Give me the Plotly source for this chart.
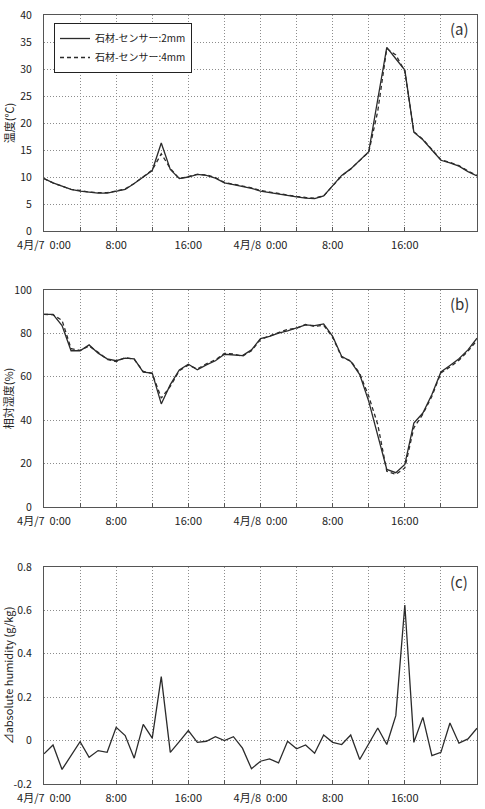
import plotly.graph_objects as go

hours = [0, 1, 2, 3, 4, 5, 6, 7, 8, 9, 10, 11, 12, 13, 14, 15, 16, 17, 18, 19, 20, 21, 22, 23, 24,
         25, 26, 27, 28, 29, 30, 31, 32, 33, 34, 35, 36, 37, 38, 39, 40, 41, 42, 43, 44, 45, 46, 47, 48]

temp_2mm = [9.7, 8.9, 8.3, 7.7, 7.4, 7.2, 7.0, 7.0, 7.4, 7.7, 8.8, 10.0, 11.2, 16.3, 11.4, 9.7, 10.0,
            10.5, 10.3, 9.8, 8.9, 8.6, 8.3, 7.9, 7.4, 7.1, 6.8, 6.6, 6.3, 6.1, 6.0, 6.5, 8.3, 10.3,
            11.5, 13.1, 14.7, 24.4, 34.0, 31.9, 29.8, 18.3, 16.9, 15.0, 13.1, 12.6, 12.0, 11.0, 10.2]
temp_4mm = [9.7, 8.9, 8.3, 7.7, 7.5, 7.2, 7.1, 7.1, 7.4, 7.8, 8.8, 10.0, 11.3, 14.3, 11.6, 9.7, 10.1,
            10.5, 10.4, 9.9, 9.0, 8.7, 8.4, 8.0, 7.5, 7.2, 6.9, 6.7, 6.4, 6.2, 6.1, 6.5, 8.3, 10.2,
            11.5, 13.1, 14.6, 22.2, 33.8, 32.6, 29.6, 18.4, 17.0, 15.1, 13.2, 12.7, 12.1, 11.1, 10.3]

rh_2mm = [88.8, 88.8, 83.6, 72.0, 72.0, 74.7, 70.9, 68.3, 67.4, 68.6, 68.3, 62.2, 61.7, 47.5, 56.4,
          63.2, 65.8, 63.2, 65.5, 67.4, 70.4, 70.1, 69.8, 72.4, 77.6, 78.6, 80.1, 81.2, 82.7, 83.9,
          83.6, 84.4, 78.6, 69.4, 67.1, 61.0, 48.7, 33.4, 17.3, 15.8, 19.6, 38.7, 43.3, 51.8, 62.2,
          65.2, 68.3, 72.4, 77.8]
rh_4mm = [88.8, 88.6, 86.0, 73.0, 72.2, 74.2, 71.3, 68.0, 67.0, 68.9, 68.0, 62.5, 61.5, 50.2, 55.6,
          62.8, 65.4, 63.6, 66.0, 67.8, 70.8, 70.5, 69.5, 72.0, 77.2, 78.9, 80.4, 81.8, 82.4, 84.1,
          83.2, 83.8, 78.2, 69.0, 67.4, 61.5, 51.0, 38.0, 16.5, 15.0, 18.0, 36.5, 42.8, 51.0, 61.8,
          64.5, 67.6, 71.8, 76.8]

dah = [-0.061, -0.020, -0.133, -0.069, -0.005, -0.077, -0.046, -0.054, 0.061, 0.023, -0.081, 0.075,
       0.011, 0.295, -0.054, -0.005, 0.046, -0.008, -0.003, 0.018, 0.0, 0.018, -0.035, -0.130, -0.095,
       -0.084, -0.103, -0.003, -0.038, -0.020, -0.058, 0.026, -0.008, -0.018, 0.026, -0.087, -0.012,
       0.058, -0.018, 0.115, 0.625, -0.008, 0.107, -0.069, -0.054, 0.081, -0.012, 0.008, 0.057]

x_tickvals = [0, 4, 8, 12, 16, 20, 24, 28, 32, 36, 40, 44, 48]
x_ticktext = ["4月/7\u00a0\u00a00:00", "", "8:00", "", "16:00", "",
              "4月/8\u00a0\u00a00:00", "", "8:00", "", "16:00", "", ""]

series_names = ["石材-センサー:2mm", "石材-センサー:4mm"]
panel_labels = ["(a)", "(b)", "(c)"]
y_titles = ["温度(℃)", "相対湿度(%)", "⊿absolute humidity (g/kg)"]

FONT = "Noto Sans CJK JP"
W, H = 485, 809
xdom = [44 / W, 477 / W]
panels_px = [(15, 231), (290, 507), (567, 784)]
ydoms = [[1 - b / H, 1 - t / H] for t, b in panels_px]

LINE_COL = "#2b2b2b"
GRID_COL = "#8c8c8c"
fig = go.Figure()

fig.add_trace(go.Scatter(x=hours, y=temp_2mm, mode="lines", name=series_names[0],
                         line=dict(color=LINE_COL, width=1.3), xaxis="x", yaxis="y"))
fig.add_trace(go.Scatter(x=hours, y=temp_4mm, mode="lines", name=series_names[1],
                         line=dict(color=LINE_COL, width=1.3, dash="4px,3px"), xaxis="x", yaxis="y"))
fig.add_trace(go.Scatter(x=hours, y=rh_2mm, mode="lines", showlegend=False,
                         line=dict(color=LINE_COL, width=1.3), xaxis="x2", yaxis="y2"))
fig.add_trace(go.Scatter(x=hours, y=rh_4mm, mode="lines", showlegend=False,
                         line=dict(color=LINE_COL, width=1.3, dash="4px,3px"), xaxis="x2", yaxis="y2"))
fig.add_trace(go.Scatter(x=hours, y=dah, mode="lines", showlegend=False,
                         line=dict(color=LINE_COL, width=1.3), xaxis="x3", yaxis="y3"))

common_x = dict(range=[0, 48], tickmode="array", tickvals=x_tickvals, ticktext=x_ticktext,
                showgrid=True, gridcolor=GRID_COL, griddash="1px,2px", gridwidth=1,
                showline=True, linecolor="#555", linewidth=1.2, mirror=True,
                ticks="inside", ticklen=4, tickcolor="#555", zeroline=False,
                ticklabelstandoff=4, automargin=False,
                tickfont=dict(family=FONT, size=11, color="#222"), domain=xdom, fixedrange=True)
common_y = dict(showgrid=True, gridcolor=GRID_COL, griddash="1px,2px", gridwidth=1,
                showline=True, linecolor="#555", linewidth=1.2, mirror=True,
                ticks="", zeroline=False, automargin=False, ticklabelstandoff=9,
                tickfont=dict(family=FONT, size=10.5, color="#222"), fixedrange=True)

y_specs = [
    dict(range=[0, 40], tickvals=[0, 5, 10, 15, 20, 25, 30, 35, 40]),
    dict(range=[0, 100], tickvals=[0, 20, 40, 60, 80, 100]),
    dict(range=[-0.2, 0.8], tickvals=[-0.2, 0, 0.2, 0.4, 0.6, 0.8],
         ticktext=["-0.2", "0", "0.2", "0.4", "0.6", "0.8"]),
]

layout = dict(width=W, height=H, margin=dict(l=0, r=0, t=0, b=0, autoexpand=False),
              paper_bgcolor="white", plot_bgcolor="white", showlegend=True,
              font=dict(family=FONT, size=11, color="#222"))
for i in range(3):
    sx = "" if i == 0 else str(i + 1)
    xa = dict(common_x, anchor="y" + sx)
    ya = dict(common_y, anchor="x" + sx, domain=ydoms[i], tickmode="array", **y_specs[i])
    ya["title"] = dict(text=y_titles[i], font=dict(family=FONT, size=11, color="#222"), standoff=3)
    layout["xaxis" + sx] = xa
    layout["yaxis" + sx] = ya

fig.update_layout(**layout)
fig.update_layout(legend=dict(x=54 / W, y=1 - 23 / H, xanchor="left", yanchor="top",
                              bgcolor="white", bordercolor="#222", borderwidth=1,
                              font=dict(family=FONT, size=10, color="#222"),
                              tracegroupgap=0, itemwidth=30))

for i, (t, b) in enumerate(panels_px):
    fig.add_annotation(text=panel_labels[i], x=459 / W, y=1 - (t + 14) / H, xref="paper", yref="paper",
                       xanchor="center", yanchor="middle",
                       showarrow=False, font=dict(family=FONT, size=15, color="#333"))

fig.write_html("out.html")
